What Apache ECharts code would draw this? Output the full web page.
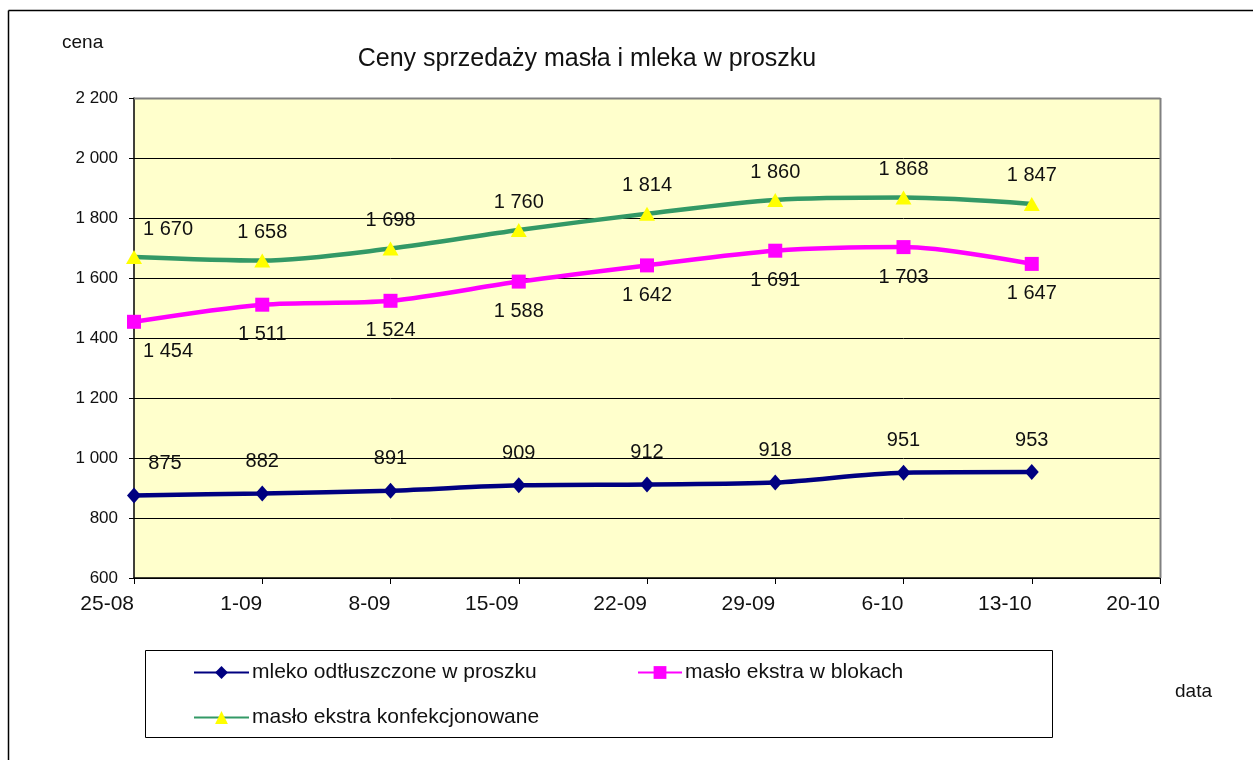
<!DOCTYPE html>
<html>
<head>
<meta charset="utf-8">
<script src="https://cdn.jsdelivr.net/npm/echarts@6/dist/echarts.min.js"></script>
<style>html,body{margin:0;padding:0;background:#fff}#c{width:1253px;height:760px}</style>
</head>
<body>
<div id="c"></div>
<script>
var categories = ['25-08', '1-09', '8-09', '15-09', '22-09', '29-09', '6-10', '13-10', '20-10'];
var mleko = [875, 882, 891, 909, 912, 918, 951, 953];
var masloBloki = [1454, 1511, 1524, 1588, 1642, 1691, 1703, 1647];
var masloKonf = [1670, 1658, 1698, 1760, 1814, 1860, 1868, 1847];
var seriesNames = ['mleko odtłuszczone w proszku', 'masło ekstra w blokach', 'masło ekstra konfekcjonowane'];

function fmt(v) {
  return String(v).replace(/\B(?=(\d{3})+(?!\d))/g, ' ');
}
var FONT = 'Liberation Sans, Arial, sans-serif';

function withFirstOffset(arr, dx) {
  return arr.map(function (v, i) {
    if (i === 0) return { value: v, label: { offset: [dx, 0] } };
    return v;
  });
}

var chart = echarts.init(document.getElementById('c'), null, { renderer: 'canvas' });
var labelStyle = { show: true, fontFamily: FONT, fontSize: 20, color: '#111', formatter: function (p) { return fmt(p.value); } };
var legendText = { fontFamily: FONT, fontSize: 21, color: '#111', padding: [0, 0, 0, -2] };

chart.setOption({
  animation: false,
  backgroundColor: '#ffffff',
  title: {
    text: 'Ceny sprzedaży masła i mleka w proszku',
    left: 582, top: 42, textAlign: 'center',
    textStyle: { fontFamily: FONT, fontSize: 25, fontWeight: 'normal', color: '#111' }
  },
  graphic: [
    { type: 'line', shape: { x1: 8.5, y1: 10.5, x2: 1253, y2: 10.5 }, style: { stroke: '#000', lineWidth: 1.5 } },
    { type: 'line', shape: { x1: 8.5, y1: 10.5, x2: 8.5, y2: 760 }, style: { stroke: '#000', lineWidth: 1.5 } },
    { type: 'rect', shape: { x: 145.5, y: 650.5, width: 907, height: 87 }, style: { fill: 'none', stroke: '#000', lineWidth: 1 }, z: -1 },
    { type: 'text', left: 62, top: 33, style: { text: 'cena', fontFamily: FONT, fontSize: 19, fill: '#111' } },
    { type: 'text', left: 1175, top: 682, style: { text: 'data', fontFamily: FONT, fontSize: 19, fill: '#111' } },
    { type: 'line', shape: { x1: 134, y1: 98.5, x2: 1160.5, y2: 98.5 }, style: { stroke: '#808080', lineWidth: 2 }, z: 5 },
    { type: 'line', shape: { x1: 1160.5, y1: 98, x2: 1160.5, y2: 578 }, style: { stroke: '#808080', lineWidth: 2 }, z: 5 }
  ],
  legend: [
    { data: [seriesNames[0]], left: 193, top: 662, padding: 0, itemWidth: 55, itemHeight: 16, itemGap: 0, textStyle: legendText },
    { data: [seriesNames[1]], left: 637, top: 662, padding: 0, itemWidth: 44, itemHeight: 16, itemGap: 0, textStyle: legendText },
    { data: [seriesNames[2]], left: 193, top: 707, padding: 0, itemWidth: 55, itemHeight: 16, itemGap: 0, textStyle: legendText }
  ],
  grid: { left: 134, right: 93, top: 98, bottom: 182, show: true, backgroundColor: '#ffffcc', borderWidth: 0 },
  xAxis: {
    type: 'category', data: categories, boundaryGap: false,
    axisLine: { lineStyle: { color: '#000', width: 1.5 } },
    axisTick: { show: true, length: 6, lineStyle: { color: '#000' } },
    axisLabel: { fontFamily: FONT, fontSize: 21, color: '#111', margin: 16, align: 'right' },
    splitLine: { show: false }
  },
  yAxis: {
    type: 'value', min: 600, max: 2200, interval: 200,
    axisLine: { show: true, lineStyle: { color: '#000', width: 1.5 } },
    axisTick: { show: true, length: 5, lineStyle: { color: '#000' } },
    axisLabel: { fontFamily: FONT, fontSize: 17, color: '#111', margin: 16, formatter: fmt },
    splitLine: { lineStyle: { color: '#000', width: 1 } }
  },
  series: [
    {
      name: seriesNames[0], type: 'line', smooth: 0.3, data: withFirstOffset(mleko, 31),
      symbol: 'diamond', symbolSize: [14, 16],
      lineStyle: { color: '#000080', width: 4.5 }, itemStyle: { color: '#000080' },
      label: Object.assign({ position: 'top', distance: 14 }, labelStyle), z: 3
    },
    {
      name: seriesNames[1], type: 'line', smooth: 0.3, data: withFirstOffset(masloBloki, 34),
      symbol: 'rect', symbolSize: 14,
      lineStyle: { color: '#ff00ff', width: 4.5 }, itemStyle: { color: '#ff00ff' },
      label: Object.assign({ position: 'bottom', distance: 13 }, labelStyle), z: 3
    },
    {
      name: seriesNames[2], type: 'line', smooth: 0.3, data: withFirstOffset(masloKonf, 34),
      symbol: 'triangle', symbolSize: [16, 14],
      lineStyle: { color: '#339966', width: 4.5 }, itemStyle: { color: '#ffff00' },
      label: Object.assign({ position: 'top', distance: 11 }, labelStyle), z: 3
    }
  ]
});
</script>
</body>
</html>
